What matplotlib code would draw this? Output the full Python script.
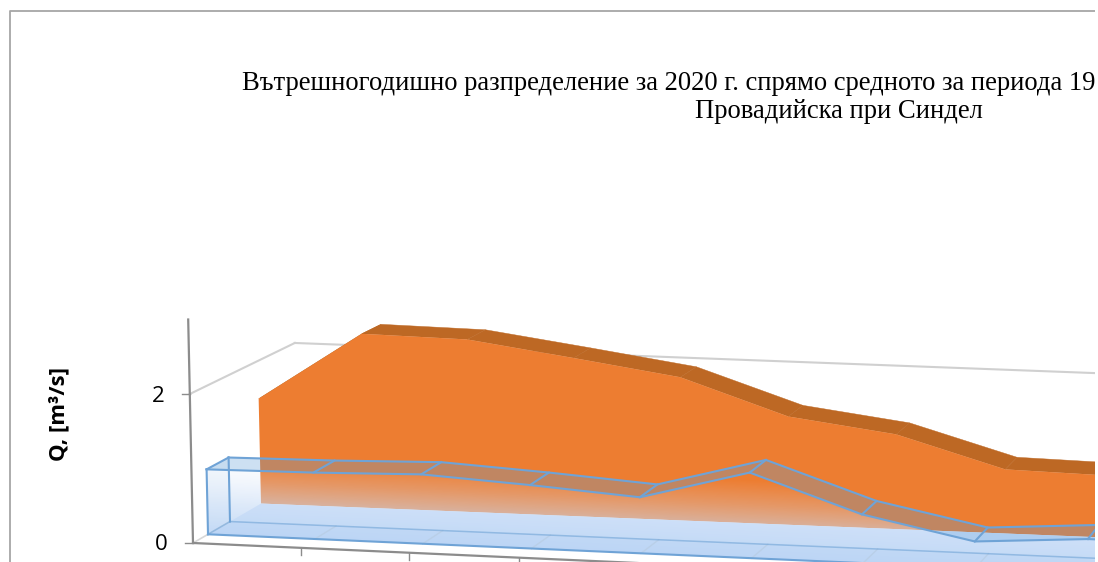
import numpy as np
import matplotlib
matplotlib.use('Agg')
import matplotlib.pyplot as plt
from matplotlib.patches import Polygon

title_1 = 'Вътрешногодишно разпределение за 2020 г. спрямо средното за периода 1950-2019 г. на р.'
title_2 = 'Провадийска при Синдел'
y_label = 'Q, [m³/s]'
y_ticks = [0, 2]

# Q values, only the first months are visible
months = ['I', 'II', 'III', 'IV', 'V', 'VI', 'VII', 'VIII', 'IX', 'X']
q_avg = [1.47, 2.44, 2.42, 2.22, 2.01, 1.52, 1.33, 0.90, 0.87, 0.81]
q_2020 = [0.88, 0.90, 0.94, 0.86, 0.76, 1.16, 0.66, 0.36, 0.46, 0.46]

# depth positions of the rows in the 3D box
T_FRONT = 0
T_BLUE_F = 15
T_BLUE_B = 37
T_ORANGE_F = 68
T_ORANGE_B = 88
T_WALL = 105


def project(m, t, q):
    # oblique 3D -> picture pixels
    m = np.asarray(m, dtype=float)
    q = np.asarray(q, dtype=float)
    x0 = 193 + t
    y0 = 543 - 0.58 * t
    run = (107 - 0.0375 * t) * m + (0.5 - 0.003 * t) * m ** 2
    scale = 74.5 - 0.047 * t
    slope = 0.045 - 0.00007 * t
    return x0 + run - 1.6 * q, y0 + run * slope - q * scale


def band(m, t, q):
    x, y = project(m, t, q)
    return np.column_stack([x, y])


fig = plt.figure(figsize=(10.98, 5.62), dpi=100)
ax = fig.add_axes([0, 0, 1095 / 1098, 1])
ax.set_axis_off()

idx = np.arange(len(months))
zeros = np.zeros(len(months))
far = np.arange(0, 12)

# frame
ax.plot([10, 10, 1095], [562, 11, 11], color='#a6a6a6', lw=1.3, zorder=1)

# wall and side gridline
gx, gy = project(far, T_WALL, np.full(12, 2.0))
ax.plot(gx, gy, color='#d0d0d0', lw=1.5, zorder=2)
sx, sy = project([0, 0], np.array([T_FRONT, T_WALL]), [2, 2])
ax.plot(sx, sy, color='#d0d0d0', lw=1.5, zorder=2)
fx, fy = project([0, 0], np.array([T_FRONT, T_BLUE_B]), [0, 0])
ax.plot(fx, fy, color='#d8d8d8', lw=1.2, zorder=2)

# orange series
for i in idx[:-1]:
    seg = [i, i + 1]
    q_seg = [q_avg[i], q_avg[i + 1]]
    poly = np.vstack([band(seg, T_ORANGE_F, q_seg), band(seg[::-1], T_ORANGE_B, q_seg[::-1])])
    ax.add_patch(Polygon(poly, closed=True, fc='#bd6824', ec='#bd6824', lw=0.3, zorder=3))
poly = np.vstack([band(idx, T_ORANGE_F, q_avg), band(idx[::-1], T_ORANGE_F, zeros)])
ax.add_patch(Polygon(poly, closed=True, fc='#ed7d31', ec='none', zorder=4))

# floor in front of the orange series
pale = np.vstack([band(idx, T_BLUE_B, zeros), band(idx[::-1], T_ORANGE_F, zeros)])
ax.add_patch(Polygon(pale, closed=True, fc='#d3e4fb', ec='none', zorder=5))
floor = np.vstack([band(idx, T_BLUE_F, zeros), band(idx[::-1], T_BLUE_B, zeros)])
ax.add_patch(Polygon(floor, closed=True, fc='#c3d9f6', ec='none', zorder=5))
side = np.vstack([band([0, 0], T_BLUE_F, [q_2020[0], 0]), band([0, 0], T_BLUE_B, [0, q_2020[0]])])
ax.add_patch(Polygon(side, closed=True, fc='#5b9bd5', ec='none', alpha=0.06, zorder=5))

# front face gradient, runs slanted with the floor
xx, yy = np.meshgrid(np.arange(0, 1100), np.arange(0, 565))
u = yy - 0.045 * (xx - 208)
rgba = np.zeros(u.shape + (4,))
rgba[..., 0] = np.interp(u, [462, 540], [215, 185]) / 255
rgba[..., 1] = np.interp(u, [462, 540], [228, 212]) / 255
rgba[..., 2] = np.interp(u, [462, 540], [248, 245]) / 255
rgba[..., 3] = np.interp(u, [455, 480, 503, 535], [0, 0.28, 0.6, 0.9])
face = np.vstack([band(idx, T_BLUE_F, q_2020), band(idx[::-1], T_BLUE_F, zeros)])
face_patch = Polygon(face, closed=True, fc='none', ec='none', transform=ax.transData)
ax.add_patch(face_patch)
im = ax.imshow(rgba, extent=[0, 1100, 565, 0], aspect='auto', interpolation='bilinear', zorder=6)
im.set_clip_path(face_patch)

# top ribbon of blue series
for i in idx[:-1]:
    seg = [i, i + 1]
    q_seg = [q_2020[i], q_2020[i + 1]]
    poly = np.vstack([band(seg, T_BLUE_F, q_seg), band(seg[::-1], T_BLUE_B, q_seg[::-1])])
    ax.add_patch(Polygon(poly, closed=True, fc='#5b9bd5', ec='none', alpha=0.3, zorder=7))

# floor lines
for i in idx:
    lx, ly = project([i, i], np.array([T_BLUE_F, T_BLUE_B]), [0, 0])
    ax.plot(lx, ly, color='#b9cfe8', lw=1, zorder=7)

# blue outlines
edge = '#6fa3d6'
for t in (T_BLUE_F, T_BLUE_B):
    ex, ey = project(idx, t, q_2020)
    ax.plot(ex, ey, color=edge, lw=1.5, zorder=8)
    bx, by = project(idx, t, zeros)
    ax.plot(bx, by, color=edge, lw=1.5 if t == T_BLUE_F else 1.1, alpha=1 if t == T_BLUE_F else 0.6, zorder=8)
    vx, vy = project([0, 0], t, [0, q_2020[0]])
    ax.plot(vx, vy, color=edge, lw=1.5, zorder=8)
for i in idx:
    rx, ry = project([i, i], np.array([T_BLUE_F, T_BLUE_B]), [q_2020[i], q_2020[i]])
    ax.plot(rx, ry, color=edge, lw=1.5, zorder=8)
lx, ly = project([0, 0], np.array([T_BLUE_F, T_BLUE_B]), [0, 0])
ax.plot(lx, ly, color=edge, lw=1.1, alpha=0.5, zorder=8)

# axes
axis_color = '#8c8c8c'
ax_x, ax_y = project(far, T_FRONT, np.zeros(12))
ax.plot(ax_x, ax_y, color=axis_color, lw=1.6, zorder=9)
vx, vy = project([0, 0], T_FRONT, [0, 3])
ax.plot(vx, vy, color=axis_color, lw=1.6, zorder=9)
for m, (tx, ty) in enumerate(zip(ax_x, ax_y)):
    if m > 0:
        ax.plot([tx, tx], [ty, ty + 7], color=axis_color, lw=1, zorder=9)
for q in y_ticks:
    tx, ty = project(0, T_FRONT, q)
    ax.text(tx - 32, ty + 2, str(q), fontsize=16, family='Open Sans', ha='center', va='center', color='black', zorder=10)
    ax.plot([tx - 8, tx], [ty, ty], color=axis_color, lw=1, zorder=9)

ax.text(59, 414, y_label, fontsize=16, family='Open Sans', fontweight='bold', rotation=90,
        ha='center', va='center', color='black')
ax.text(242, 83, title_1, fontsize=19.2, family='Liberation Serif', ha='left', va='center', color='black', clip_on=True)
ax.text(839, 112, title_2, fontsize=19.2, family='Liberation Serif', ha='center', va='center', color='black', clip_on=True)

ax.set_xlim(0, 1095)
ax.set_ylim(562, 0)
fig.savefig('out.png', dpi=100)
